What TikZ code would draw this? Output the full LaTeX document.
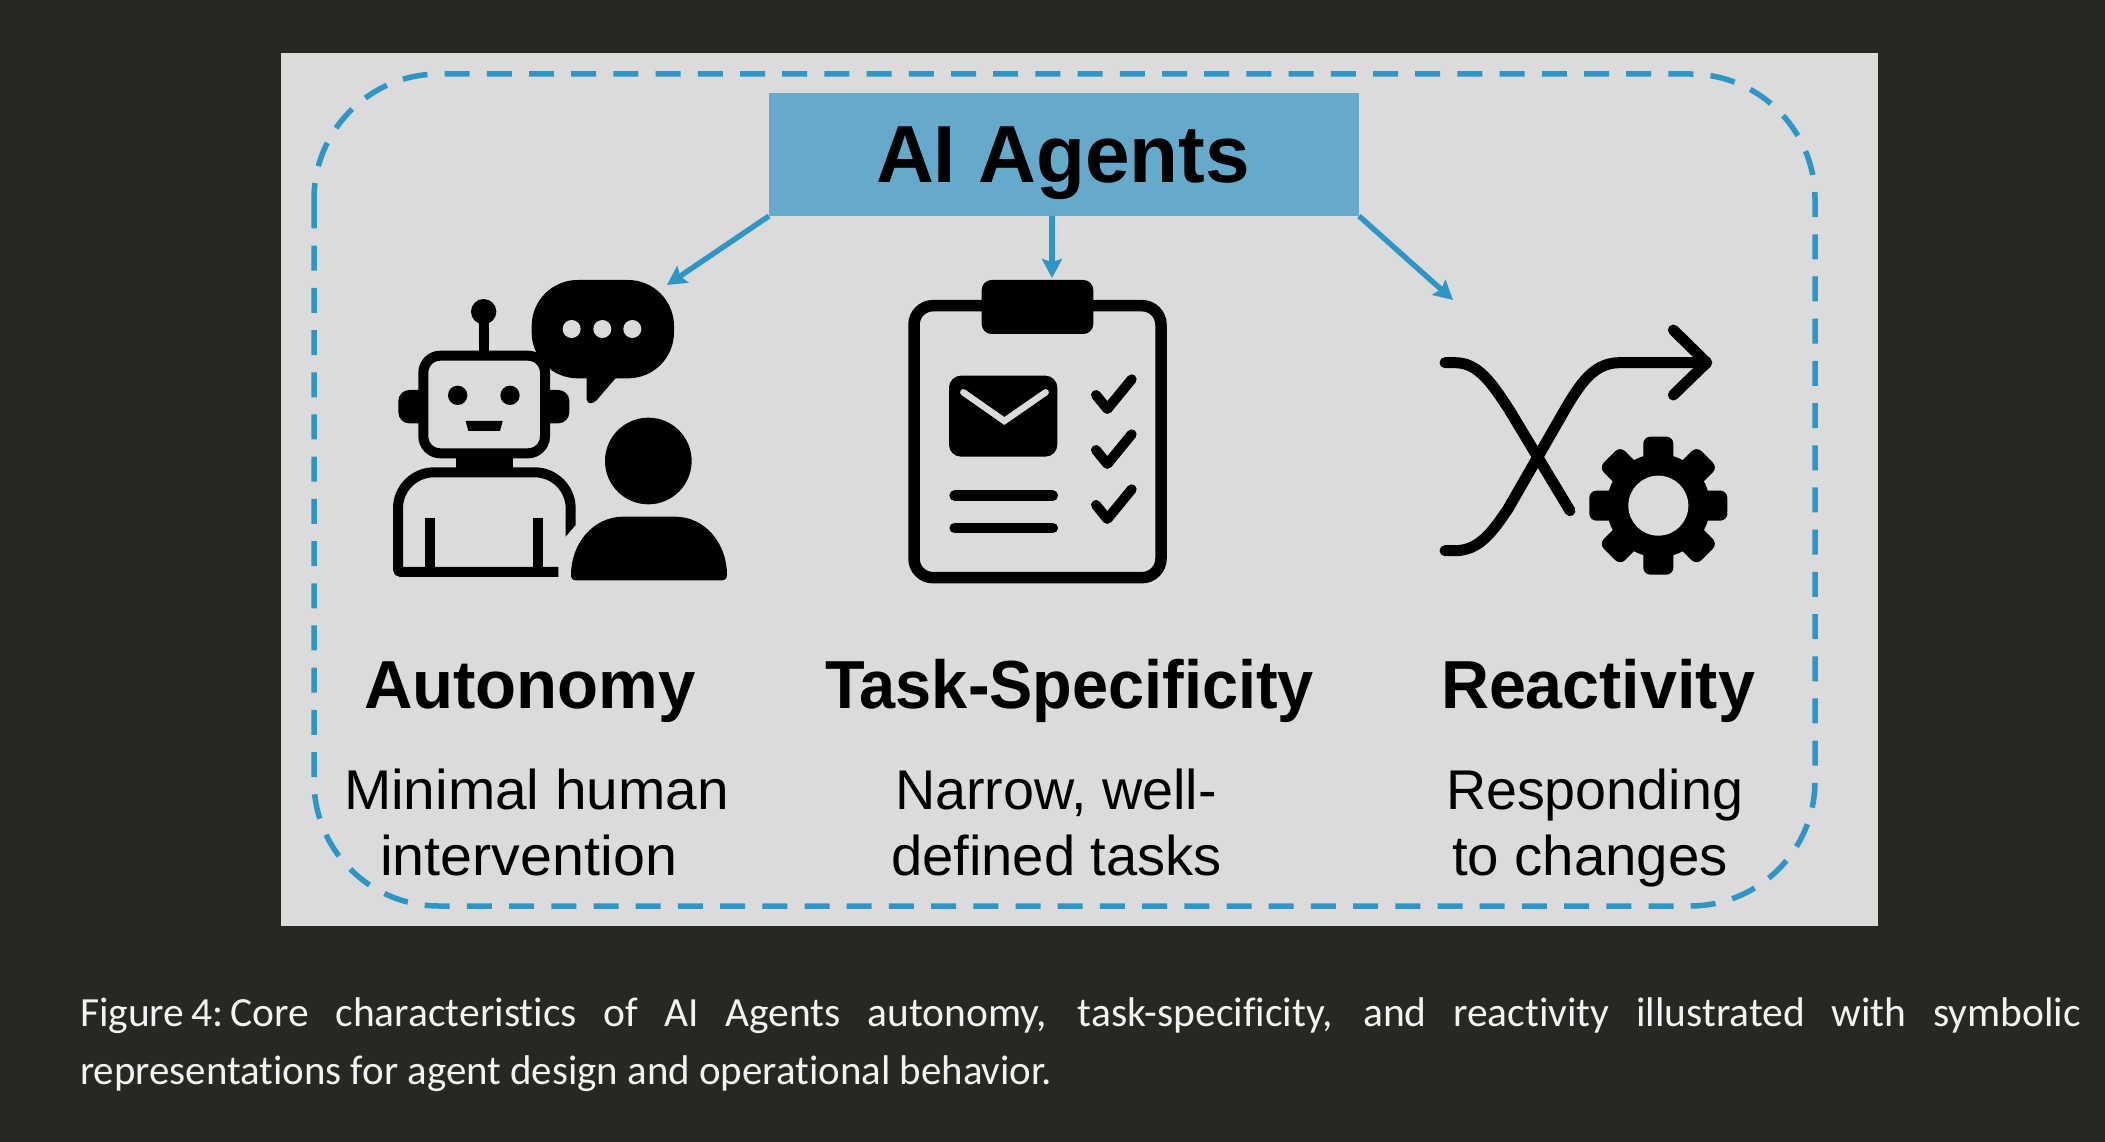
\documentclass[tikz,border=0pt]{standalone}
\usepackage{fontspec}
\usepackage{graphicx}
\usetikzlibrary{arrows.meta}
\setmainfont{Liberation Sans}
\newfontfamily\capfont[Ligatures=NoCommon]{Carlito}
\newcommand{\fitw}[2]{\resizebox{#1pt}{\height}{#2}}
\definecolor{pagebg}{HTML}{282723}
\definecolor{panelgray}{HTML}{DBDBDB}
\definecolor{boxblue}{HTML}{65A9CB}
\definecolor{lineblue}{HTML}{2E96C6}
\definecolor{capwhite}{HTML}{F2F2F2}
\tikzset{
  txt/.style={anchor=base west,inner sep=0pt,outer sep=0pt,text=black},
  headtxt/.style={txt,font=\fontsize{68}{68}\selectfont\bfseries},
  desctxt/.style={txt,font=\fontsize{56}{56}\selectfont},
  captxt/.style={anchor=base west,inner sep=0pt,outer sep=0pt,text=capwhite,font=\fontsize{41.5}{41.5}\selectfont\capfont},
  conn/.style={draw=lineblue,line width=5.4pt,-{Stealth[length=19pt,width=20pt,inset=3pt]}},
  ink/.style={line width=10pt,draw=black,line cap=butt},
  inkr/.style={line width=10pt,draw=black,line cap=round,line join=round},
  zoomA/.style={shift={(370,260)},x=0.33333pt,y=-0.33333pt},
  zoomB/.style={shift={(880,260)},x=0.33333pt,y=-0.33333pt},
  zoomC/.style={shift={(1420,280)},x=0.33333pt,y=-0.33333pt},
}
\begin{document}
\begin{tikzpicture}[x=1pt,y=-1pt]
\useasboundingbox (0,0) rectangle (2105,1142);
\fill[pagebg] (0,0) rectangle (2105,1142);
\fill[panelgray] (281,53) rectangle (1878,926);

% dashed frame
\draw[lineblue,line width=5.5pt,dash pattern=on 25pt off 17.2pt]
  (314,208) -- (314,199)
  arc[start angle=180,end angle=90,radius=125pt] -- (1690,74)
  arc[start angle=90,end angle=0,radius=125pt] -- (1815,781)
  arc[start angle=0,end angle=-90,radius=125pt] -- (439,906)
  arc[start angle=270,end angle=180,radius=125pt] -- (314,208);

% title box
\node[fill=boxblue,minimum width=590pt,minimum height=123pt,inner sep=0pt,outer sep=0pt,anchor=north west] (box) at (769,93) {};
\node[txt,font=\fontsize{81}{81}\selectfont\bfseries] (title) at (876,183) {\fitw{374}{AI Agents}};

% robot + person
\begin{scope}[zoomA]
  \fill[black,rounded corners=46pt] (485,60) rectangle (912,355);
  \fill[black,rounded corners=4pt] (650,340) -- (650,430) -- (672,430) -- (745,345) -- cycle;
  \foreach \cx in {605,697,787} \fill[panelgray] (\cx,207) circle[radius=27];
  \fill[black,rounded corners=11pt] (85,390) rectangle (598,490);
  \draw[ink] (341,155) -- (341,280);
  \fill[black] (341,155) circle[radius=38];
  \draw[ink,fill=panelgray,rounded corners=17pt] (160,287) rectangle (525,580);
  \fill[black] (263,406) circle[radius=29];
  \fill[black] (420,406) circle[radius=29];
  \fill[black] (287,483) -- (398,483) -- (390,513) -- (295,513) -- cycle;
  \fill[black] (258,585) rectangle (430,650);
  \draw[ink] (602,795) [rounded corners=36pt] -- (602,637) -- (84,637) [rounded corners=3pt] -- (84,936) -- (565,936);
  \fill[black] (617,795) -- (587,795) -- (587,830) -- cycle;
  \draw[ink] (180,775) -- (180,936);
  \draw[ink] (503,775) -- (503,936);
  \fill[black] (835,603) circle[radius=130];
  \fill[black] (603,945) .. controls (603,850) and (670,770) .. (760,770)
     -- (915,770) .. controls (1005,770) and (1071,850) .. (1071,945)
     .. controls (1071,955) and (1065,961) .. (1055,961)
     -- (618,961) .. controls (608,961) and (603,955) .. (603,945) -- cycle;
\end{scope}

% clipboard
\begin{scope}[zoomB]
  \draw[black,line width=11.5pt,rounded corners=19pt] (102,137) rectangle (843,953);
  \fill[black,rounded corners=10pt] (305,60) rectangle (640,222);
  \fill[black,rounded corners=12pt] (207,347) rectangle (532,590);
  \draw[panelgray,line width=6.5pt,line cap=round,line join=miter] (250,397) -- (373,483) -- (497,397);
  \draw[black,line width=10.7pt,line cap=round] (224,707) -- (518,707);
  \draw[black,line width=10.7pt,line cap=round] (224,804) -- (518,804);
  \foreach \dy in {0,165,330}
    \draw[inkr] (648,405+\dy) -- (682,447+\dy) -- (755,358+\dy);
\end{scope}

% shuffle + gear
\begin{scope}[zoomC]
  \draw[black,line width=11pt,line cap=round,line join=round]
    (75,248) -- (105,248) .. controls (175,248) and (215,310) .. (265,385) -- (450,692);
  \draw[black,line width=11pt,line cap=round,line join=round]
    (75,812) -- (105,812) .. controls (175,812) and (215,760) .. (265,685) -- (440,380)
    .. controls (490,295) and (530,248) .. (600,248) -- (860,248);
  \draw[black,line width=11pt,line cap=round,line join=round] (760,150) -- (860,248) -- (760,345);
  \fill[black] (715,677) circle[radius=155];
  \foreach \ang in {0,45,...,315}
    \fill[black,rotate around={\ang:(715,677)},rounded corners=7pt] (670,470) rectangle (760,600);
  \fill[panelgray] (715,677) circle[radius=90];
\end{scope}

% connectors
\coordinate (tipA) at (667,285);
\coordinate (tipB) at (1052,278);
\coordinate (tipC) at (1453,300);
\draw[conn] (box.south west) -- (tipA);
\draw[conn] (box.south -| tipB) -- (tipB);
\draw[conn] (box.south east) -- (tipC);

% labels
\node[headtxt] (h1) at (364,708) {\fitw{332}{Autonomy}};
\node[headtxt] (h2) at (825,708) {\fitw{489}{Task-Specificity}};
\node[headtxt] (h3) at (1441,708) {\fitw{314}{Reactivity}};
\node[desctxt] (d1a) at (344,809) {\fitw{385}{Minimal human}};
\node[desctxt] (d1b) at (380,875) {\fitw{297}{intervention}};
\node[desctxt] (d2a) at (895,809) {\fitw{322}{Narrow, well-}};
\node[desctxt] (d2b) at (891,875) {\fitw{331}{defined tasks}};
\node[desctxt] (d3a) at (1446,809) {\fitw{297}{Responding}};
\node[desctxt] (d3b) at (1452,875) {\fitw{276}{to changes}};

% caption
\node[captxt] (c1) at (80,1026) {\makebox[2001pt][s]{Figure\,4:\,Core characteristics of AI Agents autonomy, task-specificity, and reactivity illustrated with symbolic}};
\node[captxt] (c2) at (80,1084) {\fitw{972}{representations for agent design and operational behavior.}};
\end{tikzpicture}
\end{document}
